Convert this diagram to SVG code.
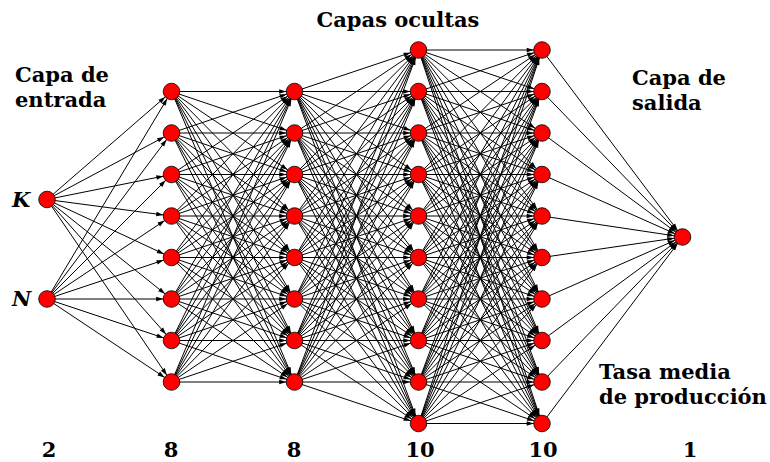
<svg xmlns="http://www.w3.org/2000/svg" width="770" height="462" viewBox="0 0 770 462">
<style>
text{font-family:"DejaVu Serif","Liberation Serif",serif;font-weight:bold;font-size:21px;fill:#000}
.num{text-anchor:middle}
.var{font-style:italic}
#connectors line{stroke:#000;stroke-width:1;marker-end:url(#arr)}
.node circle{fill:#ff0000;stroke:#000;stroke-width:0.8}
</style>
<defs>
<marker id="arr" viewBox="0 -4 20 8" markerWidth="20" markerHeight="8" refX="18.3" refY="0" orient="auto" markerUnits="userSpaceOnUse">
<path d="M3,-2.3 L10,0 L3,2.3 z" fill="#000"/>
</marker>
</defs>
<rect width="770" height="462" fill="#fff"/>
<g id="connectors">
<line x1="47" y1="199.5" x2="171.5" y2="91.5"/><line x1="47" y1="199.5" x2="171.5" y2="133"/><line x1="47" y1="199.5" x2="171.5" y2="174.5"/><line x1="47" y1="199.5" x2="171.5" y2="216"/><line x1="47" y1="199.5" x2="171.5" y2="257.5"/><line x1="47" y1="199.5" x2="171.5" y2="299"/><line x1="47" y1="199.5" x2="171.5" y2="340.5"/><line x1="47" y1="199.5" x2="171.5" y2="382"/>
<line x1="47" y1="299" x2="171.5" y2="91.5"/><line x1="47" y1="299" x2="171.5" y2="133"/><line x1="47" y1="299" x2="171.5" y2="174.5"/><line x1="47" y1="299" x2="171.5" y2="216"/><line x1="47" y1="299" x2="171.5" y2="257.5"/><line x1="47" y1="299" x2="171.5" y2="299"/><line x1="47" y1="299" x2="171.5" y2="340.5"/><line x1="47" y1="299" x2="171.5" y2="382"/>

<line x1="171.5" y1="91.5" x2="294.5" y2="91.5"/><line x1="171.5" y1="91.5" x2="294.5" y2="133"/><line x1="171.5" y1="91.5" x2="294.5" y2="174.5"/><line x1="171.5" y1="91.5" x2="294.5" y2="216"/><line x1="171.5" y1="91.5" x2="294.5" y2="257.5"/><line x1="171.5" y1="91.5" x2="294.5" y2="299"/><line x1="171.5" y1="91.5" x2="294.5" y2="340.5"/><line x1="171.5" y1="91.5" x2="294.5" y2="382"/>
<line x1="171.5" y1="133" x2="294.5" y2="91.5"/><line x1="171.5" y1="133" x2="294.5" y2="133"/><line x1="171.5" y1="133" x2="294.5" y2="174.5"/><line x1="171.5" y1="133" x2="294.5" y2="216"/><line x1="171.5" y1="133" x2="294.5" y2="257.5"/><line x1="171.5" y1="133" x2="294.5" y2="299"/><line x1="171.5" y1="133" x2="294.5" y2="340.5"/><line x1="171.5" y1="133" x2="294.5" y2="382"/>
<line x1="171.5" y1="174.5" x2="294.5" y2="91.5"/><line x1="171.5" y1="174.5" x2="294.5" y2="133"/><line x1="171.5" y1="174.5" x2="294.5" y2="174.5"/><line x1="171.5" y1="174.5" x2="294.5" y2="216"/><line x1="171.5" y1="174.5" x2="294.5" y2="257.5"/><line x1="171.5" y1="174.5" x2="294.5" y2="299"/><line x1="171.5" y1="174.5" x2="294.5" y2="340.5"/><line x1="171.5" y1="174.5" x2="294.5" y2="382"/>
<line x1="171.5" y1="216" x2="294.5" y2="91.5"/><line x1="171.5" y1="216" x2="294.5" y2="133"/><line x1="171.5" y1="216" x2="294.5" y2="174.5"/><line x1="171.5" y1="216" x2="294.5" y2="216"/><line x1="171.5" y1="216" x2="294.5" y2="257.5"/><line x1="171.5" y1="216" x2="294.5" y2="299"/><line x1="171.5" y1="216" x2="294.5" y2="340.5"/><line x1="171.5" y1="216" x2="294.5" y2="382"/>
<line x1="171.5" y1="257.5" x2="294.5" y2="91.5"/><line x1="171.5" y1="257.5" x2="294.5" y2="133"/><line x1="171.5" y1="257.5" x2="294.5" y2="174.5"/><line x1="171.5" y1="257.5" x2="294.5" y2="216"/><line x1="171.5" y1="257.5" x2="294.5" y2="257.5"/><line x1="171.5" y1="257.5" x2="294.5" y2="299"/><line x1="171.5" y1="257.5" x2="294.5" y2="340.5"/><line x1="171.5" y1="257.5" x2="294.5" y2="382"/>
<line x1="171.5" y1="299" x2="294.5" y2="91.5"/><line x1="171.5" y1="299" x2="294.5" y2="133"/><line x1="171.5" y1="299" x2="294.5" y2="174.5"/><line x1="171.5" y1="299" x2="294.5" y2="216"/><line x1="171.5" y1="299" x2="294.5" y2="257.5"/><line x1="171.5" y1="299" x2="294.5" y2="299"/><line x1="171.5" y1="299" x2="294.5" y2="340.5"/><line x1="171.5" y1="299" x2="294.5" y2="382"/>
<line x1="171.5" y1="340.5" x2="294.5" y2="91.5"/><line x1="171.5" y1="340.5" x2="294.5" y2="133"/><line x1="171.5" y1="340.5" x2="294.5" y2="174.5"/><line x1="171.5" y1="340.5" x2="294.5" y2="216"/><line x1="171.5" y1="340.5" x2="294.5" y2="257.5"/><line x1="171.5" y1="340.5" x2="294.5" y2="299"/><line x1="171.5" y1="340.5" x2="294.5" y2="340.5"/><line x1="171.5" y1="340.5" x2="294.5" y2="382"/>
<line x1="171.5" y1="382" x2="294.5" y2="91.5"/><line x1="171.5" y1="382" x2="294.5" y2="133"/><line x1="171.5" y1="382" x2="294.5" y2="174.5"/><line x1="171.5" y1="382" x2="294.5" y2="216"/><line x1="171.5" y1="382" x2="294.5" y2="257.5"/><line x1="171.5" y1="382" x2="294.5" y2="299"/><line x1="171.5" y1="382" x2="294.5" y2="340.5"/><line x1="171.5" y1="382" x2="294.5" y2="382"/>

<line x1="294.5" y1="91.5" x2="418.5" y2="50"/><line x1="294.5" y1="91.5" x2="418.5" y2="91.5"/><line x1="294.5" y1="91.5" x2="418.5" y2="133"/><line x1="294.5" y1="91.5" x2="418.5" y2="174.5"/><line x1="294.5" y1="91.5" x2="418.5" y2="216"/><line x1="294.5" y1="91.5" x2="418.5" y2="257.5"/><line x1="294.5" y1="91.5" x2="418.5" y2="299"/><line x1="294.5" y1="91.5" x2="418.5" y2="340.5"/><line x1="294.5" y1="91.5" x2="418.5" y2="382"/><line x1="294.5" y1="91.5" x2="418.5" y2="423.5"/>
<line x1="294.5" y1="133" x2="418.5" y2="50"/><line x1="294.5" y1="133" x2="418.5" y2="91.5"/><line x1="294.5" y1="133" x2="418.5" y2="133"/><line x1="294.5" y1="133" x2="418.5" y2="174.5"/><line x1="294.5" y1="133" x2="418.5" y2="216"/><line x1="294.5" y1="133" x2="418.5" y2="257.5"/><line x1="294.5" y1="133" x2="418.5" y2="299"/><line x1="294.5" y1="133" x2="418.5" y2="340.5"/><line x1="294.5" y1="133" x2="418.5" y2="382"/><line x1="294.5" y1="133" x2="418.5" y2="423.5"/>
<line x1="294.5" y1="174.5" x2="418.5" y2="50"/><line x1="294.5" y1="174.5" x2="418.5" y2="91.5"/><line x1="294.5" y1="174.5" x2="418.5" y2="133"/><line x1="294.5" y1="174.5" x2="418.5" y2="174.5"/><line x1="294.5" y1="174.5" x2="418.5" y2="216"/><line x1="294.5" y1="174.5" x2="418.5" y2="257.5"/><line x1="294.5" y1="174.5" x2="418.5" y2="299"/><line x1="294.5" y1="174.5" x2="418.5" y2="340.5"/><line x1="294.5" y1="174.5" x2="418.5" y2="382"/><line x1="294.5" y1="174.5" x2="418.5" y2="423.5"/>
<line x1="294.5" y1="216" x2="418.5" y2="50"/><line x1="294.5" y1="216" x2="418.5" y2="91.5"/><line x1="294.5" y1="216" x2="418.5" y2="133"/><line x1="294.5" y1="216" x2="418.5" y2="174.5"/><line x1="294.5" y1="216" x2="418.5" y2="216"/><line x1="294.5" y1="216" x2="418.5" y2="257.5"/><line x1="294.5" y1="216" x2="418.5" y2="299"/><line x1="294.5" y1="216" x2="418.5" y2="340.5"/><line x1="294.5" y1="216" x2="418.5" y2="382"/><line x1="294.5" y1="216" x2="418.5" y2="423.5"/>
<line x1="294.5" y1="257.5" x2="418.5" y2="50"/><line x1="294.5" y1="257.5" x2="418.5" y2="91.5"/><line x1="294.5" y1="257.5" x2="418.5" y2="133"/><line x1="294.5" y1="257.5" x2="418.5" y2="174.5"/><line x1="294.5" y1="257.5" x2="418.5" y2="216"/><line x1="294.5" y1="257.5" x2="418.5" y2="257.5"/><line x1="294.5" y1="257.5" x2="418.5" y2="299"/><line x1="294.5" y1="257.5" x2="418.5" y2="340.5"/><line x1="294.5" y1="257.5" x2="418.5" y2="382"/><line x1="294.5" y1="257.5" x2="418.5" y2="423.5"/>
<line x1="294.5" y1="299" x2="418.5" y2="50"/><line x1="294.5" y1="299" x2="418.5" y2="91.5"/><line x1="294.5" y1="299" x2="418.5" y2="133"/><line x1="294.5" y1="299" x2="418.5" y2="174.5"/><line x1="294.5" y1="299" x2="418.5" y2="216"/><line x1="294.5" y1="299" x2="418.5" y2="257.5"/><line x1="294.5" y1="299" x2="418.5" y2="299"/><line x1="294.5" y1="299" x2="418.5" y2="340.5"/><line x1="294.5" y1="299" x2="418.5" y2="382"/><line x1="294.5" y1="299" x2="418.5" y2="423.5"/>
<line x1="294.5" y1="340.5" x2="418.5" y2="50"/><line x1="294.5" y1="340.5" x2="418.5" y2="91.5"/><line x1="294.5" y1="340.5" x2="418.5" y2="133"/><line x1="294.5" y1="340.5" x2="418.5" y2="174.5"/><line x1="294.5" y1="340.5" x2="418.5" y2="216"/><line x1="294.5" y1="340.5" x2="418.5" y2="257.5"/><line x1="294.5" y1="340.5" x2="418.5" y2="299"/><line x1="294.5" y1="340.5" x2="418.5" y2="340.5"/><line x1="294.5" y1="340.5" x2="418.5" y2="382"/><line x1="294.5" y1="340.5" x2="418.5" y2="423.5"/>
<line x1="294.5" y1="382" x2="418.5" y2="50"/><line x1="294.5" y1="382" x2="418.5" y2="91.5"/><line x1="294.5" y1="382" x2="418.5" y2="133"/><line x1="294.5" y1="382" x2="418.5" y2="174.5"/><line x1="294.5" y1="382" x2="418.5" y2="216"/><line x1="294.5" y1="382" x2="418.5" y2="257.5"/><line x1="294.5" y1="382" x2="418.5" y2="299"/><line x1="294.5" y1="382" x2="418.5" y2="340.5"/><line x1="294.5" y1="382" x2="418.5" y2="382"/><line x1="294.5" y1="382" x2="418.5" y2="423.5"/>

<line x1="418.5" y1="50" x2="542" y2="50"/><line x1="418.5" y1="50" x2="542" y2="91.5"/><line x1="418.5" y1="50" x2="542" y2="133"/><line x1="418.5" y1="50" x2="542" y2="174.5"/><line x1="418.5" y1="50" x2="542" y2="216"/><line x1="418.5" y1="50" x2="542" y2="257.5"/><line x1="418.5" y1="50" x2="542" y2="299"/><line x1="418.5" y1="50" x2="542" y2="340.5"/><line x1="418.5" y1="50" x2="542" y2="382"/><line x1="418.5" y1="50" x2="542" y2="423.5"/>
<line x1="418.5" y1="91.5" x2="542" y2="50"/><line x1="418.5" y1="91.5" x2="542" y2="91.5"/><line x1="418.5" y1="91.5" x2="542" y2="133"/><line x1="418.5" y1="91.5" x2="542" y2="174.5"/><line x1="418.5" y1="91.5" x2="542" y2="216"/><line x1="418.5" y1="91.5" x2="542" y2="257.5"/><line x1="418.5" y1="91.5" x2="542" y2="299"/><line x1="418.5" y1="91.5" x2="542" y2="340.5"/><line x1="418.5" y1="91.5" x2="542" y2="382"/><line x1="418.5" y1="91.5" x2="542" y2="423.5"/>
<line x1="418.5" y1="133" x2="542" y2="50"/><line x1="418.5" y1="133" x2="542" y2="91.5"/><line x1="418.5" y1="133" x2="542" y2="133"/><line x1="418.5" y1="133" x2="542" y2="174.5"/><line x1="418.5" y1="133" x2="542" y2="216"/><line x1="418.5" y1="133" x2="542" y2="257.5"/><line x1="418.5" y1="133" x2="542" y2="299"/><line x1="418.5" y1="133" x2="542" y2="340.5"/><line x1="418.5" y1="133" x2="542" y2="382"/><line x1="418.5" y1="133" x2="542" y2="423.5"/>
<line x1="418.5" y1="174.5" x2="542" y2="50"/><line x1="418.5" y1="174.5" x2="542" y2="91.5"/><line x1="418.5" y1="174.5" x2="542" y2="133"/><line x1="418.5" y1="174.5" x2="542" y2="174.5"/><line x1="418.5" y1="174.5" x2="542" y2="216"/><line x1="418.5" y1="174.5" x2="542" y2="257.5"/><line x1="418.5" y1="174.5" x2="542" y2="299"/><line x1="418.5" y1="174.5" x2="542" y2="340.5"/><line x1="418.5" y1="174.5" x2="542" y2="382"/><line x1="418.5" y1="174.5" x2="542" y2="423.5"/>
<line x1="418.5" y1="216" x2="542" y2="50"/><line x1="418.5" y1="216" x2="542" y2="91.5"/><line x1="418.5" y1="216" x2="542" y2="133"/><line x1="418.5" y1="216" x2="542" y2="174.5"/><line x1="418.5" y1="216" x2="542" y2="216"/><line x1="418.5" y1="216" x2="542" y2="257.5"/><line x1="418.5" y1="216" x2="542" y2="299"/><line x1="418.5" y1="216" x2="542" y2="340.5"/><line x1="418.5" y1="216" x2="542" y2="382"/><line x1="418.5" y1="216" x2="542" y2="423.5"/>
<line x1="418.5" y1="257.5" x2="542" y2="50"/><line x1="418.5" y1="257.5" x2="542" y2="91.5"/><line x1="418.5" y1="257.5" x2="542" y2="133"/><line x1="418.5" y1="257.5" x2="542" y2="174.5"/><line x1="418.5" y1="257.5" x2="542" y2="216"/><line x1="418.5" y1="257.5" x2="542" y2="257.5"/><line x1="418.5" y1="257.5" x2="542" y2="299"/><line x1="418.5" y1="257.5" x2="542" y2="340.5"/><line x1="418.5" y1="257.5" x2="542" y2="382"/><line x1="418.5" y1="257.5" x2="542" y2="423.5"/>
<line x1="418.5" y1="299" x2="542" y2="50"/><line x1="418.5" y1="299" x2="542" y2="91.5"/><line x1="418.5" y1="299" x2="542" y2="133"/><line x1="418.5" y1="299" x2="542" y2="174.5"/><line x1="418.5" y1="299" x2="542" y2="216"/><line x1="418.5" y1="299" x2="542" y2="257.5"/><line x1="418.5" y1="299" x2="542" y2="299"/><line x1="418.5" y1="299" x2="542" y2="340.5"/><line x1="418.5" y1="299" x2="542" y2="382"/><line x1="418.5" y1="299" x2="542" y2="423.5"/>
<line x1="418.5" y1="340.5" x2="542" y2="50"/><line x1="418.5" y1="340.5" x2="542" y2="91.5"/><line x1="418.5" y1="340.5" x2="542" y2="133"/><line x1="418.5" y1="340.5" x2="542" y2="174.5"/><line x1="418.5" y1="340.5" x2="542" y2="216"/><line x1="418.5" y1="340.5" x2="542" y2="257.5"/><line x1="418.5" y1="340.5" x2="542" y2="299"/><line x1="418.5" y1="340.5" x2="542" y2="340.5"/><line x1="418.5" y1="340.5" x2="542" y2="382"/><line x1="418.5" y1="340.5" x2="542" y2="423.5"/>
<line x1="418.5" y1="382" x2="542" y2="50"/><line x1="418.5" y1="382" x2="542" y2="91.5"/><line x1="418.5" y1="382" x2="542" y2="133"/><line x1="418.5" y1="382" x2="542" y2="174.5"/><line x1="418.5" y1="382" x2="542" y2="216"/><line x1="418.5" y1="382" x2="542" y2="257.5"/><line x1="418.5" y1="382" x2="542" y2="299"/><line x1="418.5" y1="382" x2="542" y2="340.5"/><line x1="418.5" y1="382" x2="542" y2="382"/><line x1="418.5" y1="382" x2="542" y2="423.5"/>
<line x1="418.5" y1="423.5" x2="542" y2="50"/><line x1="418.5" y1="423.5" x2="542" y2="91.5"/><line x1="418.5" y1="423.5" x2="542" y2="133"/><line x1="418.5" y1="423.5" x2="542" y2="174.5"/><line x1="418.5" y1="423.5" x2="542" y2="216"/><line x1="418.5" y1="423.5" x2="542" y2="257.5"/><line x1="418.5" y1="423.5" x2="542" y2="299"/><line x1="418.5" y1="423.5" x2="542" y2="340.5"/><line x1="418.5" y1="423.5" x2="542" y2="382"/><line x1="418.5" y1="423.5" x2="542" y2="423.5"/>

<line x1="542" y1="50" x2="682.5" y2="237"/><line x1="542" y1="91.5" x2="682.5" y2="237"/><line x1="542" y1="133" x2="682.5" y2="237"/><line x1="542" y1="174.5" x2="682.5" y2="237"/><line x1="542" y1="216" x2="682.5" y2="237"/><line x1="542" y1="257.5" x2="682.5" y2="237"/><line x1="542" y1="299" x2="682.5" y2="237"/><line x1="542" y1="340.5" x2="682.5" y2="237"/><line x1="542" y1="382" x2="682.5" y2="237"/><line x1="542" y1="423.5" x2="682.5" y2="237"/>
</g>

<g id="input-K" class="node"><circle cx="47" cy="199.5" r="8.3"/></g>
<g id="input-N" class="node"><circle cx="47" cy="299" r="8.3"/></g>

<g id="h1-1" class="node"><circle cx="171.5" cy="91.5" r="8.3"/></g>
<g id="h1-2" class="node"><circle cx="171.5" cy="133" r="8.3"/></g>
<g id="h1-3" class="node"><circle cx="171.5" cy="174.5" r="8.3"/></g>
<g id="h1-4" class="node"><circle cx="171.5" cy="216" r="8.3"/></g>
<g id="h1-5" class="node"><circle cx="171.5" cy="257.5" r="8.3"/></g>
<g id="h1-6" class="node"><circle cx="171.5" cy="299" r="8.3"/></g>
<g id="h1-7" class="node"><circle cx="171.5" cy="340.5" r="8.3"/></g>
<g id="h1-8" class="node"><circle cx="171.5" cy="382" r="8.3"/></g>

<g id="h2-1" class="node"><circle cx="294.5" cy="91.5" r="8.3"/></g>
<g id="h2-2" class="node"><circle cx="294.5" cy="133" r="8.3"/></g>
<g id="h2-3" class="node"><circle cx="294.5" cy="174.5" r="8.3"/></g>
<g id="h2-4" class="node"><circle cx="294.5" cy="216" r="8.3"/></g>
<g id="h2-5" class="node"><circle cx="294.5" cy="257.5" r="8.3"/></g>
<g id="h2-6" class="node"><circle cx="294.5" cy="299" r="8.3"/></g>
<g id="h2-7" class="node"><circle cx="294.5" cy="340.5" r="8.3"/></g>
<g id="h2-8" class="node"><circle cx="294.5" cy="382" r="8.3"/></g>

<g id="h3-1" class="node"><circle cx="418.5" cy="50" r="8.3"/></g>
<g id="h3-2" class="node"><circle cx="418.5" cy="91.5" r="8.3"/></g>
<g id="h3-3" class="node"><circle cx="418.5" cy="133" r="8.3"/></g>
<g id="h3-4" class="node"><circle cx="418.5" cy="174.5" r="8.3"/></g>
<g id="h3-5" class="node"><circle cx="418.5" cy="216" r="8.3"/></g>
<g id="h3-6" class="node"><circle cx="418.5" cy="257.5" r="8.3"/></g>
<g id="h3-7" class="node"><circle cx="418.5" cy="299" r="8.3"/></g>
<g id="h3-8" class="node"><circle cx="418.5" cy="340.5" r="8.3"/></g>
<g id="h3-9" class="node"><circle cx="418.5" cy="382" r="8.3"/></g>
<g id="h3-10" class="node"><circle cx="418.5" cy="423.5" r="8.3"/></g>

<g id="h4-1" class="node"><circle cx="542" cy="50" r="8.3"/></g>
<g id="h4-2" class="node"><circle cx="542" cy="91.5" r="8.3"/></g>
<g id="h4-3" class="node"><circle cx="542" cy="133" r="8.3"/></g>
<g id="h4-4" class="node"><circle cx="542" cy="174.5" r="8.3"/></g>
<g id="h4-5" class="node"><circle cx="542" cy="216" r="8.3"/></g>
<g id="h4-6" class="node"><circle cx="542" cy="257.5" r="8.3"/></g>
<g id="h4-7" class="node"><circle cx="542" cy="299" r="8.3"/></g>
<g id="h4-8" class="node"><circle cx="542" cy="340.5" r="8.3"/></g>
<g id="h4-9" class="node"><circle cx="542" cy="382" r="8.3"/></g>
<g id="h4-10" class="node"><circle cx="542" cy="423.5" r="8.3"/></g>

<g id="output" class="node"><circle cx="682.5" cy="237" r="8.3"/></g>

<g id="labels">
<text x="398" y="27" text-anchor="middle">Capas ocultas</text>
<text x="15" y="82">Capa de</text>
<text x="15" y="107">entrada</text>
<text x="632" y="85">Capa de</text>
<text x="632" y="110">salida</text>
<text x="599" y="379">Tasa media</text>
<text x="599" y="404">de producción</text>
<text class="var" x="12" y="207">K</text>
<text class="var" x="12" y="306">N</text>
<text class="num" x="49" y="457">2</text>
<text class="num" x="171" y="457">8</text>
<text class="num" x="294" y="457">8</text>
<text class="num" x="420" y="457">10</text>
<text class="num" x="543" y="457">10</text>
<text class="num" x="690" y="457">1</text>
</g>
</svg>
